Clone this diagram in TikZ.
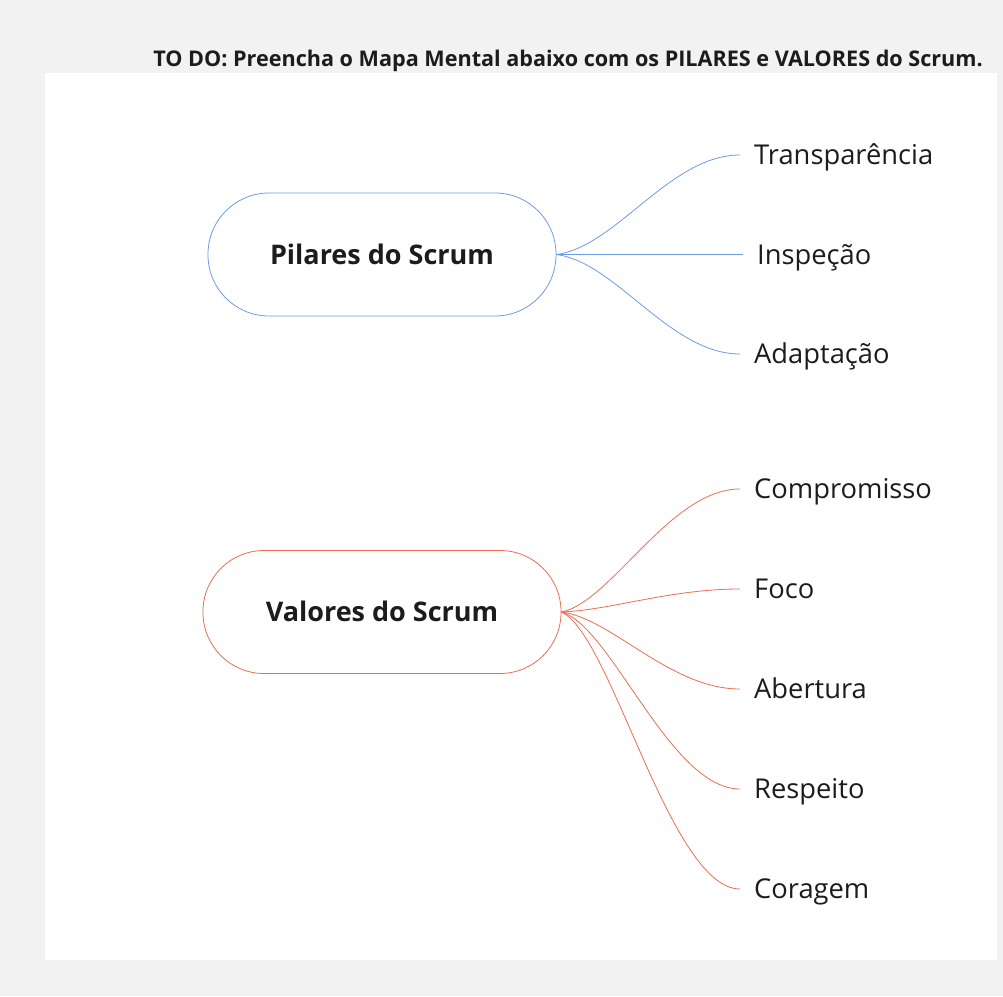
\documentclass[tikz,border=0pt]{standalone}
\usepackage{fontspec}
\setmainfont{Open Sans}
\usetikzlibrary{positioning}
\definecolor{pagegray}{HTML}{F2F2F2}
\definecolor{pilarblue}{HTML}{6D9CE5}
\definecolor{valorred}{HTML}{EB6E52}
\definecolor{inkdark}{HTML}{1C1C1C}
\tikzset{
  central/.style={draw, rounded corners=61pt, minimum height=123pt, line width=0.8pt,
    font=\fontsize{27}{32}\selectfont\bfseries, text=inkdark, text height=19.3pt, text depth=0pt},
  leaf/.style={anchor=west, inner xsep=14pt, inner ysep=0pt, font=\fontsize{27.3}{32}\selectfont,
    text=inkdark, text height=19.5pt, text depth=0pt},
  branch/.style={line width=0.8pt}
}
\begin{document}
\begin{tikzpicture}[x=1pt,y=-1pt]
	\fill[pagegray] (0,0) rectangle (1003,996);
	\fill[white] (45,73) rectangle (997,960);
	\node[anchor=base east, inner sep=0pt, font=\fontsize{21.6}{26}\selectfont\bfseries, text=inkdark] (title) at (983,66) {TO DO: Preencha o Mapa Mental abaixo com os PILARES e VALORES do Scrum.};
	% pilares
	\node[central, draw=pilarblue, minimum width=348pt] (pil) at (382,254.5) {Pilares do Scrum};
	\node[leaf] (tra) at (740,155) {Transparência};
	\node[leaf] (ins) at (743,254.5) {Inspeção};
	\node[leaf] (ada) at (740,354) {Adaptação};
	\draw[branch, pilarblue] (pil.east) .. controls +(60,-8) and +(-70,0) .. (tra.west);
	\draw[branch, pilarblue] (pil.east) -- (ins.west);
	\draw[branch, pilarblue] (pil.east) .. controls +(60,8) and +(-70,0) .. (ada.west);
	% valores
	\node[central, draw=valorred, minimum width=358pt] (val) at (382,612) {Valores do Scrum};
	\node[leaf] (com) at (740,489) {Compromisso};
	\node[leaf] (foc) at (740,589) {Foco};
	\node[leaf] (abe) at (740,689) {Abertura};
	\node[leaf] (res) at (740,789) {Respeito};
	\node[leaf] (cor) at (740,889) {Coragem};
	\draw[branch, valorred] (val.east) .. controls +(50,-10) and +(-70,0) .. (com.west);
	\draw[branch, valorred] (val.east) .. controls +(50,-2) and +(-70,0) .. (foc.west);
	\draw[branch, valorred] (val.east) .. controls +(50,6) and +(-70,0) .. (abe.west);
	\draw[branch, valorred] (val.east) .. controls +(50,14) and +(-70,0) .. (res.west);
	\draw[branch, valorred] (val.east) .. controls +(50,22) and +(-70,0) .. (cor.west);
\end{tikzpicture}
\end{document}
